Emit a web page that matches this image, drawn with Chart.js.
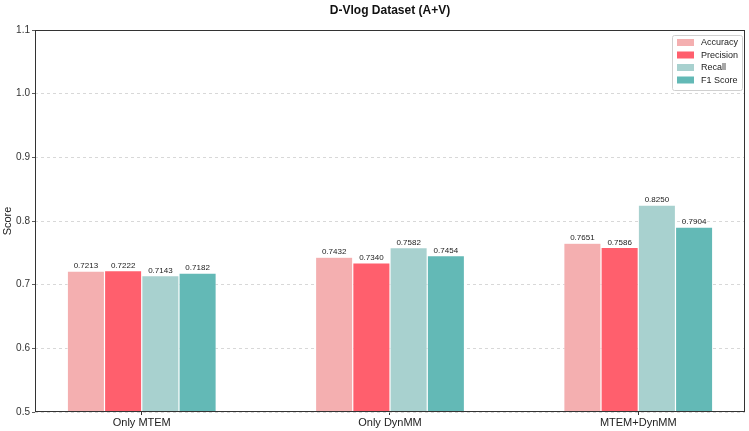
<!DOCTYPE html>
<html lang="en">
<head>
<meta charset="UTF-8">
<title>D-Vlog Dataset (A+V)</title>
<script src="https://cdn.jsdelivr.net/npm/chart.js@4"></script>
<style>
body { margin:0; background:#fff; }
#wrap { width:749px; height:431px; }
</style>
</head>
<body>
<div id="wrap"><canvas id="myChart" width="749" height="431"></canvas></div>
<script>
// dane
const categories = ["Only MTEM", "Only DynMM", "MTEM+DynMM"];
const seriesNames = ["Accuracy", "Precision", "Recall", "F1 Score"];
const accuracy  = [0.7213, 0.7432, 0.7651];
const precision = [0.7222, 0.7340, 0.7586];
const recall    = [0.7143, 0.7582, 0.8250];
const f1score   = [0.7182, 0.7454, 0.7904];
const yTicks = [0.5, 0.6, 0.7, 0.8, 0.9, 1.0, 1.1];

const colors = ["#F4AFB0", "#FF5F6D", "#A8D1CF", "#63B9B6"];
const FONT = "'Liberation Sans', Arial, sans-serif";

const allSeries = [accuracy, precision, recall, f1score];
const datasets = allSeries.map((vals, i) => ({
  label: seriesNames[i],
  data: vals.map((v, j) => ({x: j, y: v})),
  backgroundColor: colors[i],
  borderColor: "#ffffff",
  borderWidth: 0.6,
  categoryPercentage: 0.6,
  barPercentage: 1.0
}));

// ramka, tytul, etykiety, legenda
const extras = {
  id: "extras",
  afterDatasetsDraw(chart) {
    const ctx = chart.ctx;
    const a = chart.chartArea;
    ctx.save();
    // wartosci nad slupkami
    ctx.font = "8px " + FONT;
    ctx.fillStyle = "#222";
    ctx.textAlign = "center";
    ctx.textBaseline = "bottom";
    chart.data.datasets.forEach((ds, i) => {
      chart.getDatasetMeta(i).data.forEach((bar, j) => {
        ctx.fillText(ds.data[j].y.toFixed(4), bar.x, bar.y - 1);
      });
    });
    // ramka
    ctx.strokeStyle = "#333";
    ctx.lineWidth = 1;
    ctx.strokeRect(a.left + 0.5, a.top + 0.5, a.right - a.left - 1, a.bottom - a.top - 1);
    // tytul
    ctx.font = "bold 12px " + FONT;
    ctx.fillStyle = "#111";
    ctx.textBaseline = "middle";
    ctx.fillText("D-Vlog Dataset (A+V)", (a.left + a.right) / 2, 11);
    // legenda
    const lx = 672, ly = 35, lw = 70, lh = 55;
    ctx.fillStyle = "rgba(255,255,255,0.85)";
    ctx.strokeStyle = "#d0d0d0";
    ctx.beginPath();
    ctx.roundRect(lx + 0.5, ly + 0.5, lw, lh, 2);
    ctx.fill();
    ctx.stroke();
    ctx.font = "9px " + FONT;
    ctx.textAlign = "left";
    chart.data.datasets.forEach((ds, i) => {
      const y = ly + 7 + i * 12.5;
      ctx.fillStyle = ds.backgroundColor;
      ctx.fillRect(lx + 5, y - 3, 17, 7);
      ctx.fillStyle = "#222";
      ctx.fillText(ds.label, lx + 29, y + 1);
    });
    ctx.restore();
  }
};

const ctx = document.getElementById('myChart').getContext('2d');
let myChart = new Chart(ctx, {
  type: 'bar',
  data: { datasets: datasets },
  plugins: [extras],
  options: {
    responsive: false,
    animation: false,
    layout: { padding: { top: 30, right: 4, left: 0, bottom: 0 } },
    plugins: {
      legend: { display: false },
      title: { display: false },
      tooltip: { enabled: false }
    },
    scales: {
      x: {
        type: 'linear',
        offset: false,
        min: -0.43,
        max: 2.43,
        afterBuildTicks: (axis) => { axis.ticks = categories.map((c, i) => ({value: i})); },
        afterFit: (axis) => { axis.height = 19; },
        ticks: {
          callback: (v) => categories[v],
          font: { family: FONT, size: 11 },
          color: "#222",
          padding: 1,
          maxRotation: 0,
          autoSkip: false
        },
        grid: { offset: false, drawOnChartArea: false, drawTicks: true, tickLength: 3, tickColor: "#333" },
        border: { display: false }
      },
      y: {
        min: 0.5,
        max: 1.1,
        afterBuildTicks: (axis) => { axis.ticks = yTicks.map(v => ({value: v})); },
        afterFit: (axis) => { axis.width = 35; },
        ticks: {
          callback: (v) => v.toFixed(1),
          font: { family: FONT, size: 10 },
          color: "#333",
          padding: 2
        },
        title: {
          display: true,
          text: "Score",
          font: { family: FONT, size: 11 },
          color: "#222",
          padding: 1
        },
        grid: {
          color: "#cfcfcf",
          lineWidth: 0.8,
          tickLength: 3,
          tickColor: "#333",
          tickBorderDash: []
        },
        border: { display: false, dash: [3, 3] }
      }
    }
  }
});
</script>
</body>
</html>
